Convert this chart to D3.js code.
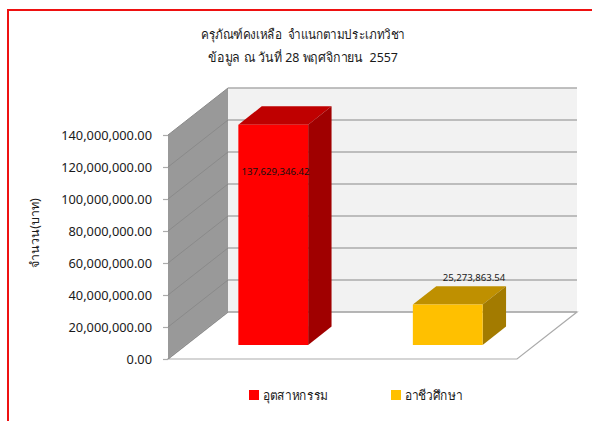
<!DOCTYPE html>
<html>
<head>
<meta charset="utf-8">
<script src="https://cdn.jsdelivr.net/npm/d3@7"></script>
<style>
  html, body { margin: 0; padding: 0; background: #fff; }
  svg { display: block; }
  text { font-family: Tahoma, "Noto Sans", "DejaVu Sans", sans-serif; fill: #1a1a1a; white-space: pre; }
</style>
</head>
<body>
<div id="chart"></div>
<script>
const categories = ["อุตสาหกรรม", "อาชีวศึกษา"];
const values = [137629346.42, 25273863.54];
const valueLabels = ["137,629,346.42", "25,273,863.54"];
const tickValues = [0, 20000000, 40000000, 60000000, 80000000, 100000000, 120000000, 140000000];
const titleLines = ["ครุภัณฑ์คงเหลือ  จำแนกตามประเภทวิชา", "ข้อมูล ณ วันที่ 28 พฤศจิกายน  2557"];
const axisTitle = "จำนวน(บาท)";
const frontColors = ["#ff0000", "#ffc000"];
const topColors = ["#bf0000", "#bf9000"];
const sideColors = ["#a00000", "#a37b00"];

const width = 592, height = 421;

const svg = d3.select("#chart").append("svg")
  .attr("width", width)
  .attr("height", height);

const x = d3.scaleBand().domain(categories).range([168, 517]).paddingInner(0.6).paddingOuter(0.3);
const y = d3.scaleLinear().domain([0, 140000000]).range([359, 135]);
// depth runs from the front of the floor (0) to the back wall (1)
const depthX = d3.scaleLinear().domain([0, 1]).range([0, 60]);
const depthY = d3.scaleLinear().domain([0, 1]).range([0, -47]);
const barDepth = [0.3, 0.69];

const pt = (px, val, d) => [px + depthX(d), y(val) + depthY(d)];
const poly = pts => "M" + pts.map(p => p.join(",")).join("L") + "Z";

// chart border, runs off the right and bottom of the crop
svg.append("path")
  .attr("d", `M8,${height}V10H${width}`)
  .attr("fill", "none")
  .attr("stroke", "#ee1111")
  .attr("stroke-width", 2);

const [x0, x1] = x.range();
const yMax = y.domain()[1];

// walls and floor
svg.append("path")
  .attr("d", poly([pt(x0, 0, 1), pt(x1, 0, 1), pt(x1, yMax, 1), pt(x0, yMax, 1)]))
  .attr("fill", "#f2f2f2");
svg.append("path")
  .attr("d", poly([pt(x0, 0, 0), pt(x0, 0, 1), pt(x0, yMax, 1), pt(x0, yMax, 0)]))
  .attr("fill", "#999999");
svg.append("path")
  .attr("d", poly([pt(x0, 0, 0), pt(x1, 0, 0), pt(x1, 0, 1), pt(x0, 0, 1)]))
  .attr("fill", "#fff")
  .attr("stroke", "#ababab")
  .attr("stroke-width", 1.2);

// gridlines: along the side wall, then along the back wall
const grid = svg.append("g");
grid.selectAll("path.side")
  .data(tickValues)
  .join("path")
  .attr("class", "side")
  .attr("d", d => d3.line()([pt(x0, d, 0), pt(x0, d, 1)]))
  .attr("stroke", "#8a8a8a")
  .attr("stroke-width", 1);
grid.selectAll("path.back")
  .data(tickValues)
  .join("path")
  .attr("class", "back")
  .attr("d", d => d3.line()([pt(x0, d, 1), pt(x1, d, 1)]))
  .attr("stroke", "#ababab")
  .attr("stroke-width", 1.3);

// value axis on the front edge of the side wall
const axis = d3.axisLeft(y)
  .tickValues(tickValues)
  .tickSize(5)
  .tickPadding(11)
  .tickFormat(d3.format(",.2f"));
const axisG = svg.append("g")
  .attr("transform", `translate(${x0},0)`)
  .call(axis);
axisG.select(".domain").remove();
axisG.selectAll("line").attr("stroke", "#ababab").attr("stroke-width", 1.2);
axisG.selectAll("text")
  .attr("font-size", 12.8)
  .style("font-family", "Tahoma, 'Noto Sans', 'DejaVu Sans', sans-serif")
  .attr("fill", "#1a1a1a");

// 3D bars
const bars = svg.selectAll("g.bar")
  .data(categories.map((c, i) => ({ c, i, v: values[i] })))
  .join("g")
  .attr("class", "bar");
const dA = barDepth[0], dB = barDepth[1];
bars.append("path")
  .attr("d", d => {
    const l = x(d.c), r = l + x.bandwidth();
    return poly([pt(l, d.v, dA), pt(r, d.v, dA), pt(r, d.v, dB), pt(l, d.v, dB)]);
  })
  .attr("fill", d => topColors[d.i]);
bars.append("path")
  .attr("d", d => {
    const r = x(d.c) + x.bandwidth();
    return poly([pt(r, 0, dA), pt(r, 0, dB), pt(r, d.v, dB), pt(r, d.v, dA)]);
  })
  .attr("fill", d => sideColors[d.i]);
bars.append("path")
  .attr("d", d => {
    const l = x(d.c), r = l + x.bandwidth();
    return poly([pt(l, 0, dA), pt(r, 0, dA), pt(r, d.v, dA), pt(l, d.v, dA)]);
  })
  .attr("fill", d => frontColors[d.i]);

// data labels
svg.append("text")
  .attr("x", 275.5).attr("y", 175)
  .attr("text-anchor", "middle").attr("font-size", 9.6)
  .style("fill", "#111")
  .text(valueLabels[0]);
svg.append("text")
  .attr("x", 474).attr("y", 281)
  .attr("text-anchor", "middle").attr("font-size", 9.6)
  .text(valueLabels[1]);

// titles, squeezed a little to the width of the original face
const titleScale = [0.9, 0.955];
svg.selectAll("text.title")
  .data(titleLines)
  .join("text")
  .attr("class", "title")
  .attr("transform", (d, i) => `translate(303,${39 + i * 23}) scale(${titleScale[i]},1)`)
  .attr("text-anchor", "middle")
  .attr("font-size", 13)
  .text(d => d);

svg.append("text")
  .attr("transform", "translate(39,233) rotate(-90)")
  .attr("text-anchor", "middle")
  .attr("font-size", 12.5)
  .text(axisTitle);

// legend
const legendX = d3.scaleOrdinal().domain(categories).range([249, 391]);
const legend = svg.selectAll("g.legend")
  .data(categories)
  .join("g")
  .attr("class", "legend")
  .attr("transform", d => `translate(${legendX(d)},390)`);
legend.append("rect")
  .attr("width", 10).attr("height", 10)
  .attr("fill", (d, i) => frontColors[i]);
legend.append("text")
  .attr("transform", "translate(14,10) scale(0.92,1)")
  .attr("font-size", 13)
  .text(d => d);
</script>
</body>
</html>
